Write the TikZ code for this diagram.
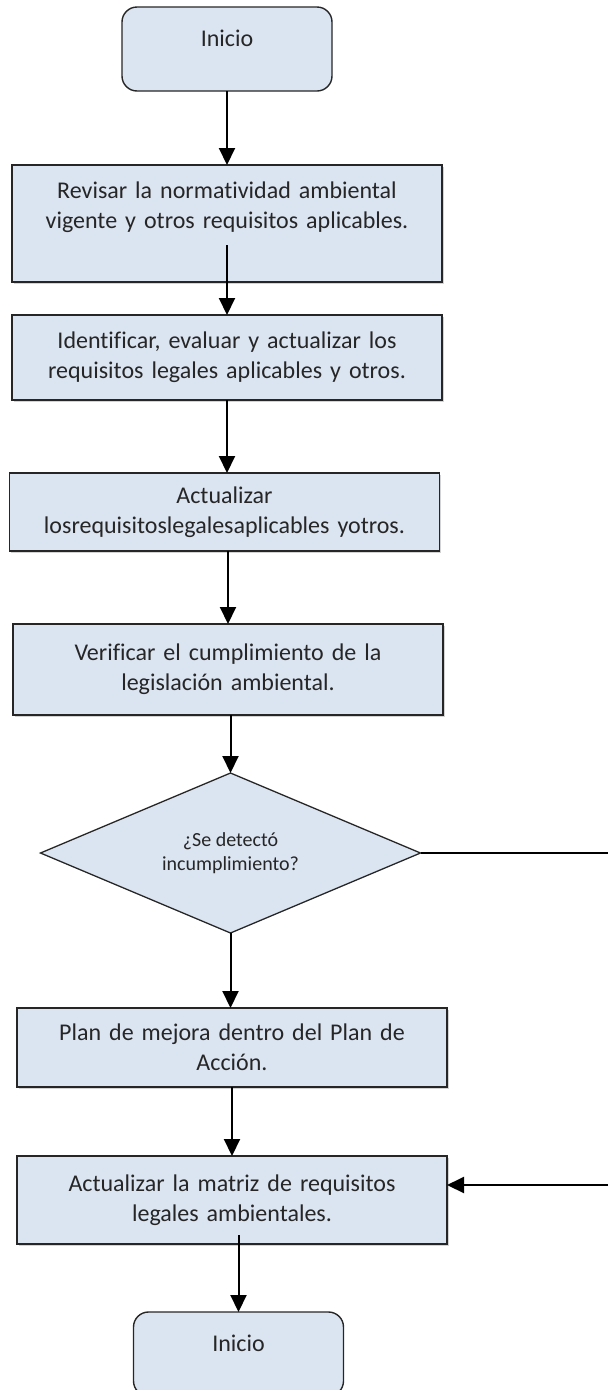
\documentclass[tikz,border=0pt]{standalone}
\usepackage{fontspec}
\setmainfont{Carlito}[Ligatures=NoCommon]
\usepackage{tikz}
\usetikzlibrary{shapes.geometric, arrows, positioning, calc}
\usetikzlibrary{shadows}
\usetikzlibrary{arrows.meta}
\definecolor{cajaazul}{RGB}{219,228,241}
\tikzstyle{inicio} = [rectangle, rounded corners=15pt, minimum width=210pt, minimum height=84pt, outer sep=0pt, text centered, draw=black!85, line width=1.4pt, fill=cajaazul, text=black!85, font=\fontsize{24}{30}\selectfont]
\tikzstyle{process} = [rectangle, minimum width=430pt, text width=410pt, inner xsep=10pt, inner ysep=2pt, outer sep=0pt, align=center, draw=black!85, line width=1.4pt, fill=cajaazul, text=black!85, font=\fontsize{24}{30}\selectfont, drop shadow={shadow xshift=1.5pt, shadow yshift=-1.5pt, opacity=.35}]
\tikzstyle{decision} = [diamond, aspect=2.4, minimum width=380pt, minimum height=160pt, inner sep=0pt, outer sep=0pt, align=center, draw=black!85, line width=1.3pt, fill=cajaazul, text=black!85, font=\fontsize{20}{24}\selectfont]
\tikzstyle{arrow} = [line width=2pt, -{Triangle[length=17pt, width=16pt]}]
\tikzstyle{line} = [line width=1.5pt]

\begin{document}
\begin{tikzpicture}[x=1pt, y=1pt]
    \useasboundingbox (0,0) rectangle (608,-1390);
    \node (inicio) [inicio, text depth=22pt] at (227,-49) {Inicio};
    \node (revisar) [process, minimum height=117pt, text depth=67pt, below=74pt of inicio] {Revisar la normatividad ambiental\\ vigente y otros requisitos aplicables.};
    \node (ident) [process, minimum height=85pt, below=33pt of revisar] {Identificar, evaluar y actualizar los\\ requisitos legales aplicables y otros.};
    \node (actual) [process, minimum height=78pt, below=73pt of ident, xshift=-2.5pt] {Actualizar\\ losrequisitoslegalesaplicables yotros.};
    \node (verif) [process, minimum height=91pt, below=73pt of actual, xshift=3.5pt] {Verificar el cumplimiento de la\\ legislación ambiental.};
    \node (detecto) [decision, below=58pt of verif, xshift=2.5pt] {¿Se detectó\\ incumplimiento?};
    \node (plan) [process, minimum height=79pt, below=75pt of detecto, xshift=1.5pt] {Plan de mejora dentro del Plan de\\ Acción.};
    \node (matriz) [process, minimum height=88pt, below=69pt of plan] {Actualizar la matriz de requisitos\\ legales ambientales.};
    \node (fin) [inicio, text depth=22pt, below=68pt of matriz, xshift=6.5pt] {Inicio};

    \coordinate (borde) at (608,0);
    \coordinate (retorno) at (608,-1185);

    \draw [arrow] (inicio) -- (revisar);
    \draw [arrow] ($(revisar.south)+(0,37pt)$) -- (revisar.south |- ident.north);
    \draw [arrow] (ident) -- (ident |- actual.north);
    \draw [arrow] (verif |- actual.south) -- (verif);
    \draw [arrow] (detecto |- verif.south) -- (detecto);
    \draw [arrow] (detecto) -- (detecto |- plan.north);
    \draw [arrow] (plan) -- (matriz);
    \draw [arrow] ($(fin |- matriz.south)+(0,9pt)$) -- (fin);

    \draw [line] (detecto.east) -- (detecto.east -| borde);
    \draw [arrow] (retorno) -- (retorno -| matriz.east);
\end{tikzpicture}
\end{document}
